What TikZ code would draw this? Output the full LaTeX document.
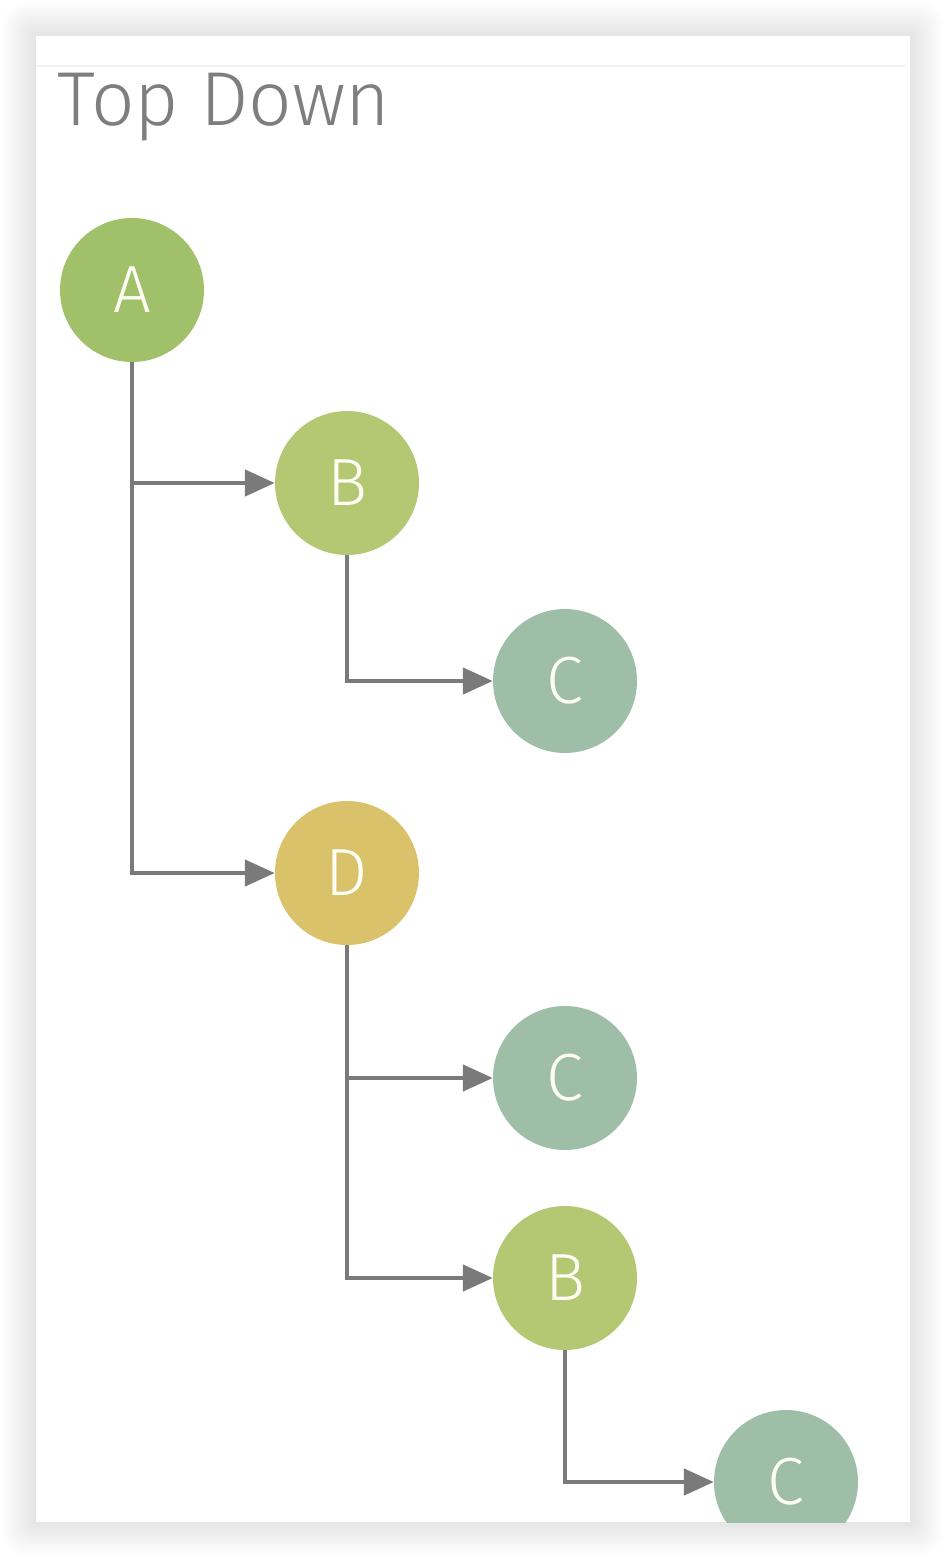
\documentclass[tikz,border=0pt]{standalone}
\usepackage{fontspec}
\setmainfont{Fira Sans Light}
\usetikzlibrary{arrows.meta}
\definecolor{titlegray}{HTML}{7E7E7E}
\definecolor{linkgray}{HTML}{7A7A7A}
\definecolor{greenA}{HTML}{A0C16A}
\definecolor{greenB}{HTML}{B4C773}
\definecolor{sageC}{HTML}{9EBEA8}
\definecolor{goldD}{HTML}{D9C26A}
\begin{document}
\begin{tikzpicture}[x=0.02cm, y=-0.02cm,
    vert/.style={circle, minimum size=2.88cm, inner sep=0pt, text=white!96!yellow,
      font=\fontsize{38}{40}\selectfont},
    link/.style={draw=linkgray, line width=2.1pt, -{Triangle[length=17pt, width=15pt]}}]
    \useasboundingbox (0,0) rectangle (946,1558);
    \foreach \i in {1,...,26}
        \fill[black, opacity=0.0058, rounded corners=\i*0.5pt]
          (36-\i*1.3,36-\i*1.3) rectangle (910+\i*1.3,1522+\i*1.3);
    \fill[white] (36,36) rectangle (910,1522);
    \draw[black!5, line width=0.6pt] (36,66) -- (905,66);
    \node[anchor=base west, inner sep=0pt, text=titlegray, font=\fontsize{43.5}{48}\selectfont]
      (title) at (57,126) {Top Down};
    \begin{scope}
        \clip (36,36) rectangle (910,1522);
        \node[vert, fill=greenA] (A) at (132,290) {A};
        \node[vert, fill=greenB] (B1) at (347,483) {B};
        \node[vert, fill=sageC] (C1) at (565,681) {C};
        \node[vert, fill=goldD] (D) at (347,873) {D};
        \node[vert, fill=sageC] (C2) at (565,1078) {C};
        \node[vert, fill=greenB] (B2) at (565,1278) {B};
        \node[vert, fill=sageC] (C3) at (786,1482) {C};
        \draw[link] (A.south) |- (B1.west);
        \draw[link] (A.south) |- (D.west);
        \draw[link] (B1.south) |- (C1.west);
        \draw[link] (D.south) |- (C2.west);
        \draw[link] (D.south) |- (B2.west);
        \draw[link] (B2.south) |- (C3.west);
    \end{scope}
\end{tikzpicture}
\end{document}
